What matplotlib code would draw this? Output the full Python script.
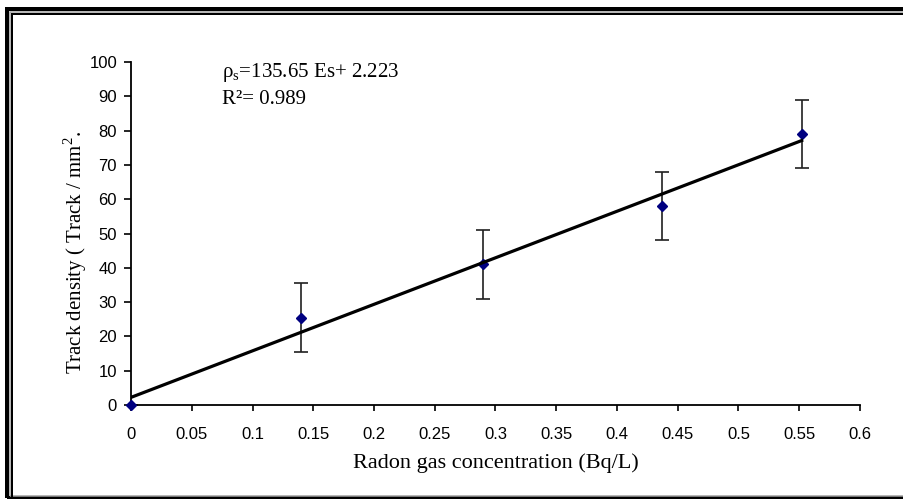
import matplotlib
matplotlib.use('Agg')
import matplotlib.pyplot as plt
from matplotlib.patches import Rectangle
from matplotlib.ticker import FuncFormatter

# measured data (radon concentration vs track density)
conc = [0.0, 0.14, 0.29, 0.437, 0.552]
density = [0.0, 25.5, 41.0, 58.0, 79.0]
err = [0.0, 10.0, 10.0, 10.0, 10.0]

# fitted line as drawn in the chart
fit_x = [0.0, 0.552]
fit_y = [2.223, 77.1]

x_ticks = [0, 0.05, 0.1, 0.15, 0.2, 0.25, 0.3, 0.35, 0.4, 0.45, 0.5, 0.55, 0.6]
y_ticks = [0, 10, 20, 30, 40, 50, 60, 70, 80, 90, 100]

eq_text = "\u03c1$_{\\mathrm{s}}$=135.65 Es+ 2.223"
r2_text = "R\u00b2= 0.989"

plt.rcParams['mathtext.fontset'] = 'custom'
plt.rcParams['mathtext.rm'] = 'Liberation Serif'

W, H = 904, 499
fig = plt.figure(figsize=(W / 100, H / 100), dpi=100)
ax = fig.add_axes([131 / W, 1 - 405 / H, 729 / W, 343 / H])


def px_box(x0, y0, x1, y1, lw, color):
    fig.add_artist(Rectangle((x0 / W, 1 - y1 / H), (x1 - x0) / W, (y1 - y0) / H,
                             transform=fig.transFigure, fill=False,
                             lw=lw * 0.72, ec=color, clip_on=False))


# picture frame
px_box(7, 9, 920, 498, 4, 'black')
px_box(10, 12, 917, 495.5, 1.5, '#a0a0a0')
px_box(12, 14, 915, 530, 2, 'black')

ax.errorbar(conc, density, yerr=err, fmt='none', ecolor='#202020',
            elinewidth=1.2, capsize=5, capthick=1.2, zorder=2)
ax.plot(conc, density, 'D', color='#000080', ms=5, clip_on=False, zorder=3)
ax.plot(fit_x, fit_y, color='black', lw=2.3, zorder=4)

ax.set_xlim(0, 0.6)
ax.set_ylim(0, 100)
ax.set_xticks(x_ticks)
ax.set_yticks(y_ticks)
ax.xaxis.set_major_formatter(FuncFormatter(lambda v, p: '%g' % v))

for s in ['top', 'right']:
    ax.spines[s].set_visible(False)
for s in ['left', 'bottom']:
    ax.spines[s].set_linewidth(1.3)

ax.tick_params(axis='x', length=4, width=1.2, pad=12, labelsize=12)
ax.tick_params(axis='y', length=5, width=1.2, pad=5, labelsize=12)
for lab in ax.get_xticklabels() + ax.get_yticklabels():
    lab.set_family('Liberation Sans')

ax.set_xlabel('Radon gas concentration (Bq/L)', family='Liberation Serif',
              fontsize=16, va='center')
ax.xaxis.set_label_coords(0.5, (405 - 463) / 343)
ax.set_ylabel('Track density ( Track / mm$^{2}$.', family='Liberation Serif',
              fontsize=15, va='center')
ax.yaxis.set_label_coords((75 - 131) / 729, (405 - 253) / 343)

fig.text(222 / W, 1 - 73 / H, eq_text, family='Liberation Serif',
         fontsize=15, va='center', ha='left')
fig.text(222 / W, 1 - 100 / H, r2_text, family='Liberation Serif',
         fontsize=15, va='center', ha='left')

fig.savefig('out.png', dpi=100)
